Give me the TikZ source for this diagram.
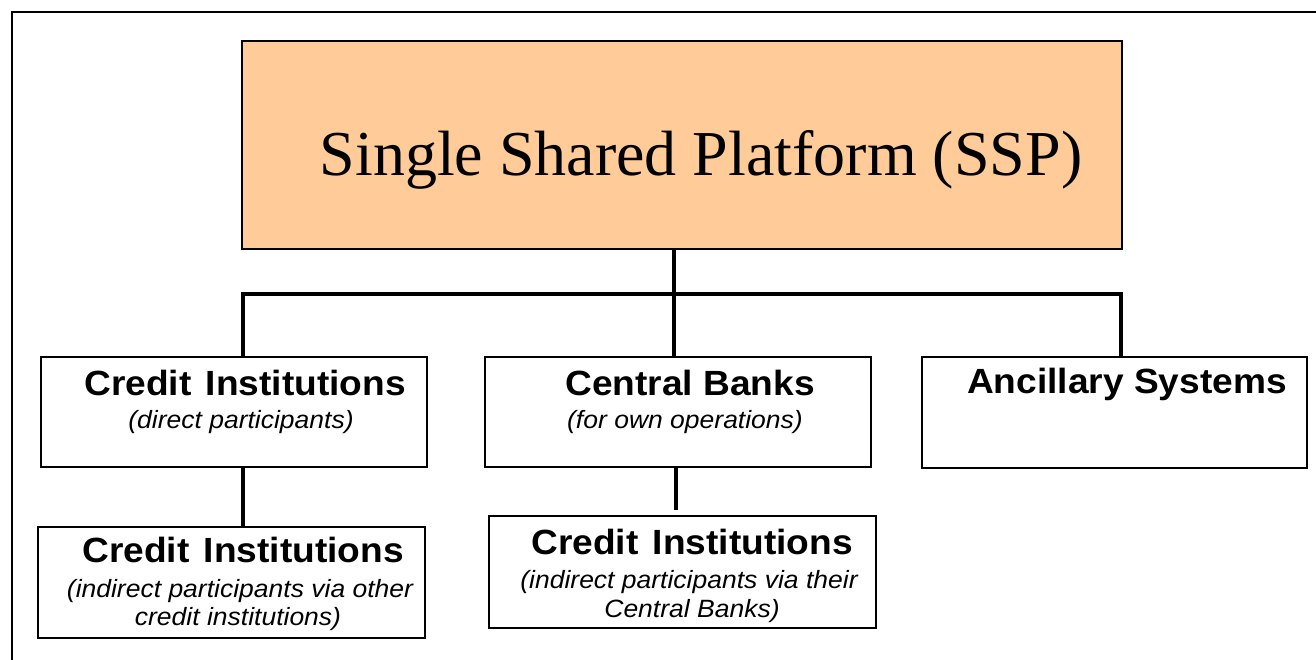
\documentclass[tikz,border=0pt]{standalone}
\usepackage{fontspec}
\setmainfont{Liberation Serif}
\newfontfamily\boxsans[FakeStretch=1.06]{Liberation Sans}
\definecolor{sspfill}{HTML}{FFCC99}
\begin{document}
\begin{tikzpicture}[x=1pt,y=-1pt,
  box/.style={draw=black, line width=2.4pt, inner sep=0pt, outer sep=0pt},
  conn/.style={draw=black, line width=4pt, line join=miter},
  head/.style={anchor=base, inner sep=0pt, font=\boxsans\bfseries\fontsize{35}{40}\selectfont},
  sub/.style={anchor=base, inner sep=0pt, font=\boxsans\itshape\fontsize{25}{30}\selectfont}]
\useasboundingbox (0,0) rectangle (1316,659);
% outer frame (cut at right and bottom)
\draw[line width=2.8pt] (12,670) -- (12,12) -- (1330,12);
% boxes
\node[box, fill=sspfill, minimum width=880pt, minimum height=208pt] (ssp) at (682,145) {};
\node[box, minimum width=386pt, minimum height=110pt] (ci) at (234,412) {};
\node[box, minimum width=386pt, minimum height=110pt] (cb) at (678,412) {};
\node[box, minimum width=385pt, minimum height=111pt] (as) at (1114.5,412.5) {};
\node[box, minimum width=387pt, minimum height=111pt] (ci2) at (231.5,582.5) {};
\node[box, minimum width=387pt, minimum height=112pt] (cb2) at (682.5,572) {};
% connectors
\coordinate (busR) at (1121,294);
\draw[conn] ([xshift=-8pt]ssp.south) -- ([xshift=-4pt]cb.north);
\draw[conn] ([xshift=9pt]ci.north) -- ([xshift=9pt]ci.north |- busR) -- (busR) -- ([xshift=6.5pt]as.north);
\draw[conn] ([xshift=9pt]ci.south) -- ([xshift=9pt]ci.south |- ci2.north);
\draw[conn, shorten >=6pt] ([xshift=-2pt]cb.south) -- ([xshift=-2pt]cb.south |- cb2.north);
% texts
\node[anchor=base, inner sep=0pt, font=\fontsize{64}{70}\selectfont] (ssptext) at (701,175) {Single Shared Platform (SSP)};
\node[head] (cih) at (245,395) {Credit\hspace{4pt} Institutions};
\node[sub] (cis) at (241,428) {(direct participants)};
\node[head] (cbh) at (690,395) {Central Banks};
\node[sub] (cbs) at (685,428) {(for own operations)};
\node[head] (ash) at (1127,393) {Ancillary Systems};
\node[head] (ci2h) at (243,562) {Credit\hspace{4pt} Institutions};
\node[sub] (ci2s) at (240,597) {(indirect participants via other};
\node[sub] (ci2t) at (238,625) {credit institutions)};
\node[head] (cb2h) at (692,554) {Credit\hspace{4pt} Institutions};
\node[sub] (cb2s) at (689,588) {(indirect participants via their};
\node[sub] (cb2t) at (692,617) {Central Banks)};
\end{tikzpicture}
\end{document}
